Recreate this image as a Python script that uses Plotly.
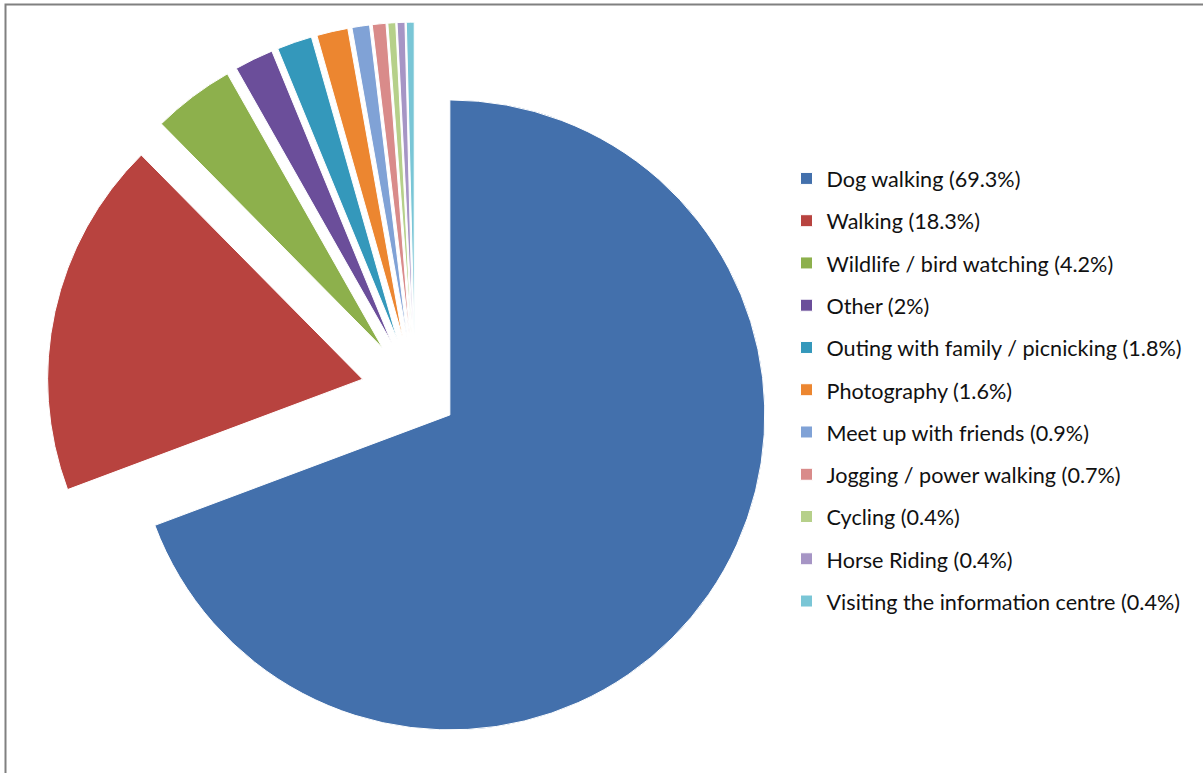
import plotly.graph_objects as go

# Survey: main reason for visiting (share of respondents, %)
activities = [
    "Dog walking",
    "Walking",
    "Wildlife / bird watching",
    "Other",
    "Outing with family / picnicking",
    "Photography",
    "Meet up with friends",
    "Jogging / power walking",
    "Cycling",
    "Horse Riding",
    "Visiting the information centre",
]
shares = [69.3, 18.3, 4.2, 2, 1.8, 1.6, 0.9, 0.7, 0.4, 0.4, 0.4]

slice_colors = [
    "#4370AC", "#B8433F", "#8DB04C", "#6B4E9A", "#3498BB", "#EC8630",
    "#80A2D6", "#D98B8A", "#B6D08A", "#A695C5", "#7AC6D6",
]
explode = [0.135] + [0.17] * 10

W, H = 1203, 773
LABEL_PX = 21.6

legend_text = [
    f'<span style="font-size:{LABEL_PX}px;baseline-shift:3px">{a} ({s:g}%)</span>'
    for a, s in zip(activities, shares)
]

fig = go.Figure(
    go.Pie(
        labels=legend_text,
        values=shares,
        sort=False,
        direction="clockwise",
        rotation=0,
        pull=explode,
        textinfo="none",
        hoverinfo="label+percent",
        marker=dict(colors=slice_colors, line=dict(color="white", width=1)),
        domain=dict(x=[46.35 / W, 783.45 / W], y=[1 - 759.25 / H, 1 - 22.15 / H]),
    )
)

fig.update_layout(
    width=W,
    height=H,
    margin=dict(l=0, r=0, t=0, b=0),
    paper_bgcolor="white",
    plot_bgcolor="white",
    font=dict(family="Lato, Liberation Sans, sans-serif", color="#111111"),
    legend=dict(
        x=(826.5 - 40) / W,
        xanchor="left",
        y=1 - 152.3 / H,
        yanchor="top",
        font=dict(size=30.2, family="Lato, Liberation Sans, sans-serif", color="#111111"),
        bgcolor="rgba(0,0,0,0)",
        borderwidth=0,
        traceorder="normal",
    ),
    shapes=[
        dict(
            type="rect", xref="paper", yref="paper",
            x0=5.5 / W, x1=1.02, y0=1 - 4.5 / H, y1=-0.02,
            line=dict(color="#808080", width=2),
            fillcolor="rgba(0,0,0,0)",
        )
    ],
)

fig.write_html("out.html")
